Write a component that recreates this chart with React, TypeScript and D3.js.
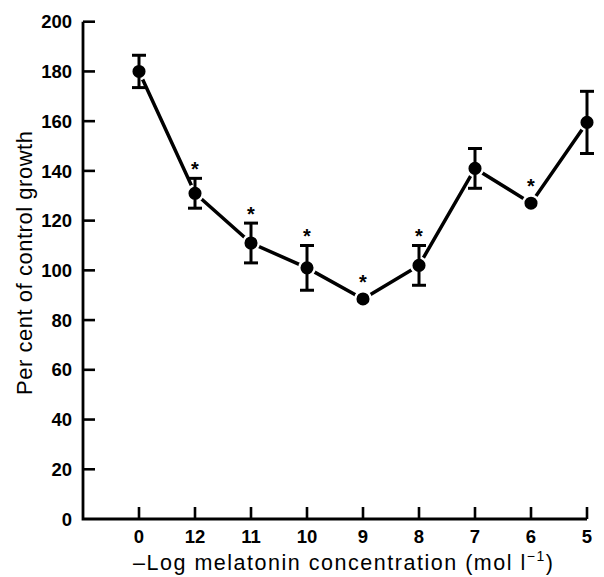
import { useEffect, useRef } from "react";
import * as d3 from "d3";

const categories = ["0", "12", "11", "10", "9", "8", "7", "6", "5"];
const means = [180, 131, 111, 101, 88.5, 102, 141, 127, 159.5];
const errors = [6.5, 6, 8, 9, 0, 8, 8, 0, 12.5];
const significant = [false, true, true, true, true, true, false, true, false];
const yTicks = [0, 20, 40, 60, 80, 100, 120, 140, 160, 180, 200];

const W = 604;
const H = 577;

export default function App() {
  const svgRef = useRef<SVGSVGElement>(null);

  useEffect(() => {
    if (!svgRef.current) return;
    const svg = d3.select(svgRef.current);
    svg.selectAll("*").remove();

    const left = 83;
    const right = 587;
    const top = 21.7;
    const bottom = 519;
    const font = "'Liberation Sans', Arial, sans-serif";

    // index -1 sits on the y axis, categories follow evenly
    const x = d3.scaleLinear().domain([-1, categories.length - 1]).range([left, right]);
    const y = d3.scaleLinear().domain([0, 200]).range([bottom, top]);

    const g = svg.append("g");

    // Axes
    g.append("path")
      .attr("d", `M${left},${top}V${bottom}H${right}`)
      .attr("fill", "none")
      .attr("stroke", "#000")
      .attr("stroke-width", 2.8);

    g.append("g")
      .selectAll("line")
      .data(yTicks.slice(1))
      .join("line")
      .attr("x1", left).attr("x2", left + 12)
      .attr("y1", (d) => y(d)).attr("y2", (d) => y(d))
      .attr("stroke", "#000").attr("stroke-width", 2.6);

    g.append("g")
      .selectAll("text")
      .data(yTicks)
      .join("text")
      .attr("x", left - 11)
      .attr("y", (d) => y(d))
      .attr("dy", "0.36em")
      .attr("text-anchor", "end")
      .style("font-family", font)
      .style("font-size", "18.5px")
      .style("font-weight", "bold")
      .text((d) => String(d));

    g.append("g")
      .selectAll("line")
      .data(categories)
      .join("line")
      .attr("x1", (_, i) => x(i)).attr("x2", (_, i) => x(i))
      .attr("y1", bottom).attr("y2", bottom - 12)
      .attr("stroke", "#000").attr("stroke-width", 2.6);

    g.append("g")
      .selectAll("text")
      .data(categories)
      .join("text")
      .attr("x", (_, i) => x(i))
      .attr("y", bottom + 24)
      .attr("text-anchor", "middle")
      .style("font-family", font)
      .style("font-size", "18.5px")
      .style("font-weight", "bold")
      .text((d) => d);

    // Axis titles
    const xt = g.append("text")
      .attr("x", 133)
      .attr("y", 570)
      .attr("textLength", 420)
      .attr("lengthAdjust", "spacing")
      .style("font-family", font)
      .style("font-size", "21.5px")
      .text("\u2013Log melatonin concentration (mol l");
    xt.append("tspan").attr("dy", -9).style("font-size", "14px").text("\u22121");
    xt.append("tspan").attr("dy", 9).text(")");

    g.append("text")
      .attr("transform", `translate(32,263) rotate(-90)`)
      .attr("text-anchor", "middle")
      .attr("textLength", 264)
      .attr("lengthAdjust", "spacing")
      .style("font-family", font)
      .style("font-size", "22px")
      .text("Per cent of control growth");

    // Line
    const line = d3.line<number>().x((_, i) => x(i)).y((d) => y(d));
    g.append("path")
      .datum(means)
      .attr("d", line)
      .attr("fill", "none")
      .attr("stroke", "#000")
      .attr("stroke-width", 3.5);

    // Points with white halo
    g.append("g")
      .selectAll("circle")
      .data(means)
      .join("circle")
      .attr("cx", (_, i) => x(i))
      .attr("cy", (d) => y(d))
      .attr("r", 7.8)
      .attr("fill", "#000")
      .attr("stroke", "#fff")
      .attr("stroke-width", 2.5);

    // Error bars
    const eb = g.append("g").attr("stroke", "#000").attr("stroke-width", 3);
    means.forEach((m, i) => {
      const e = errors[i];
      if (!e) return;
      const cx = x(i);
      eb.append("line").attr("x1", cx).attr("x2", cx).attr("y1", y(m + e)).attr("y2", y(m - e));
      eb.append("line").attr("x1", cx - 7).attr("x2", cx + 7).attr("y1", y(m + e)).attr("y2", y(m + e));
      eb.append("line").attr("x1", cx - 7).attr("x2", cx + 7).attr("y1", y(m - e)).attr("y2", y(m - e));
    });

    // Significance stars
    g.append("g")
      .selectAll("text")
      .data(means.map((m, i) => ({ m, i })).filter((d) => significant[d.i]))
      .join("text")
      .attr("x", (d) => x(d.i))
      .attr("y", (d) => Math.min(y(d.m + errors[d.i]), y(d.m) - 8) - 16)
      .attr("dy", "0.7em")
      .attr("text-anchor", "middle")
      .style("font-family", font)
      .style("font-size", "20px")
      .style("font-weight", "bold")
      .text("*");
  }, []);

  return (
    <svg
      ref={svgRef}
      width={W}
      height={H}
      style={{ position: "absolute", left: 0, top: 0, background: "#fff" }}
    />
  );
}
